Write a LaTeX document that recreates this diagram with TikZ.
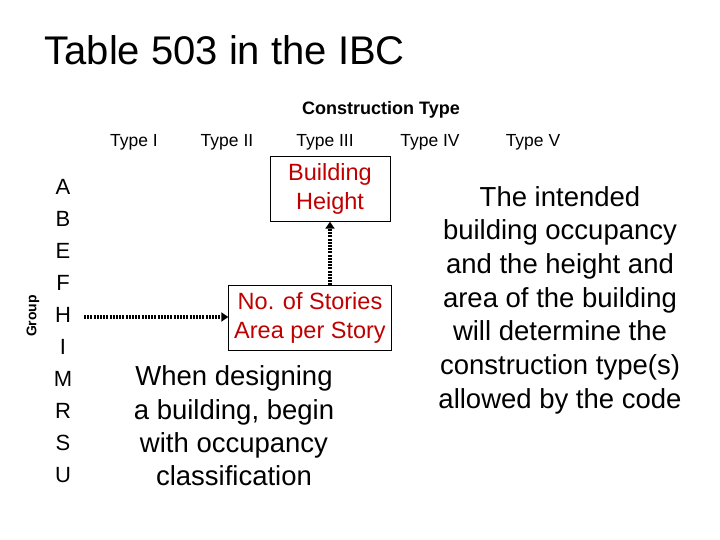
\documentclass[tikz,border=0pt]{standalone}
\usepackage{fontspec}
\setmainfont{Liberation Sans}
\usetikzlibrary{arrows.meta}
\definecolor{dred}{RGB}{192,0,0}
\begin{document}
\begin{tikzpicture}[x=1pt,y=-1pt,
  box/.style={draw,fill=white,text=dred,align=center,font=\fontsize{23.5}{29}\selectfont,inner sep=2pt},
  typ/.style={font=\fontsize{17.5}{18}\selectfont},
  dotarrow/.style={line width=3.5pt,dash pattern=on 2pt off 1.2pt,-{Triangle[length=7pt,width=9pt]}}]
\useasboundingbox (0,0) rectangle (720,540);
\node[anchor=west,font=\fontsize{40}{44}\selectfont] (title) at (41,50) {Table 503 in the IBC};
\node[font=\bfseries\fontsize{18}{20}\selectfont] (ct) at (381,110) {Construction Type};
\node[typ] (t1) at (134,142) {Type I};
\node[typ] (t2) at (227,142) {Type II};
\node[typ] (t3) at (325,142) {Type III};
\node[typ] (t4) at (430,142) {Type IV};
\node[typ] (t5) at (533,142) {Type V};
\node[rotate=90,font=\bfseries\fontsize{14}{16}\selectfont] (grp) at (33,316) {Group};
\node[align=center,font=\fontsize{22}{32}\selectfont] (letters) at (63,331) {A\\B\\E\\F\\H\\I\\M\\R\\S\\U};
\node[box,minimum width=120pt,minimum height=65pt] (bh) at (330,189) {Building\\Height};
\node[box,minimum width=163pt,minimum height=65pt] (ns) at (310,318) {No. of Stories\\Area per Story};
\node[align=center,font=\fontsize{27.5}{33.3}\selectfont] (when) at (234,426) {When designing\\a building, begin\\with occupancy\\classification};
\node[align=center,font=\fontsize{27.5}{33.7}\selectfont] (intend) at (560,300) {The intended\\building occupancy\\and the height and\\area of the building\\will determine the\\construction type(s)\\allowed by the code};
\coordinate (hstart) at (84,317);
\draw[dotarrow] (hstart) -- (ns.west |- hstart);
\draw[dotarrow] (ns.north -| 330,0) -- (bh.south -| 330,0);
\end{tikzpicture}
\end{document}
